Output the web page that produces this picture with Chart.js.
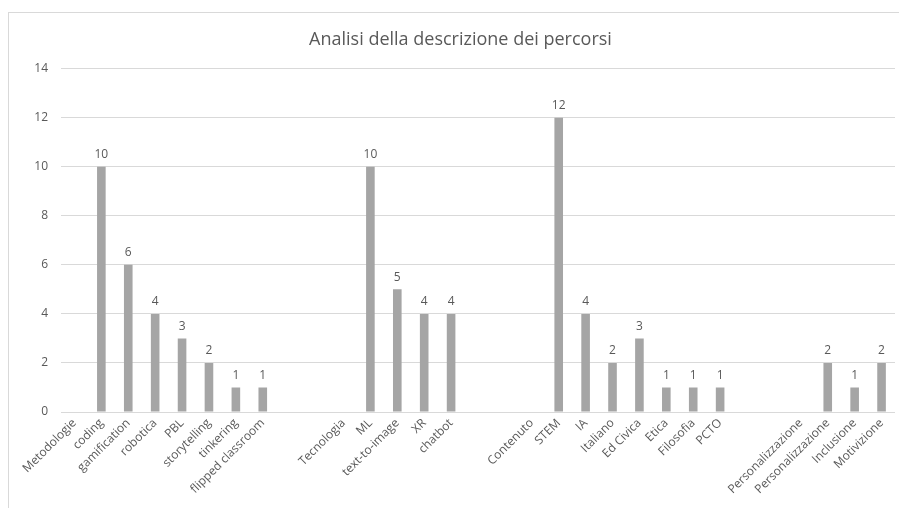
<!DOCTYPE html>
<html lang="it">
<head>
<meta charset="utf-8">
<title>Analisi della descrizione dei percorsi</title>
<script src="https://cdn.jsdelivr.net/npm/chart.js@4.4.1/dist/chart.umd.min.js"></script>
<style>
  html, body { margin: 0; padding: 0; background: #fff; overflow: hidden; }
  #wrap { position: relative; width: 899px; height: 508px; }
  #cornice {
    position: absolute; left: 8px; top: 12px; width: 1000px; height: 1000px;
    border: 1px solid #d9d9d9; box-sizing: border-box;
  }
  #grafico { position: absolute; left: 0; top: 0; }
</style>
</head>
<body>
<div id="wrap">
  <div id="cornice"></div>
  <canvas id="grafico" width="899" height="508"></canvas>
</div>
<script>
// Categorie raggruppate (le etichette vuote separano i gruppi)
const categorie = [
  'Metodologie', 'coding', 'gamification', 'robotica', 'PBL', 'storytelling', 'tinkering', 'flipped classroom',
  '', '',
  'Tecnologia', 'ML', 'text-to-image', 'XR', 'chatbot',
  '', '',
  'Contenuto', 'STEM', 'IA', 'Italiano', 'Ed Civica', 'Etica', 'Filosofia', 'PCTO',
  '', '',
  'Personalizzazione', 'Personalizzazione', 'Inclusione', 'Motivizione',
];
const conteggi = [
  null, 10, 6, 4, 3, 2, 1, 1,
  null, null,
  null, 10, 5, 4, 4,
  null, null,
  null, 12, 4, 2, 3, 1, 1, 1,
  null, null,
  null, 2, 1, 2,
];
const tickY = [0, 2, 4, 6, 8, 10, 12, 14];

const GRIGIO_TESTO = '#595959';
const FONT = "'Open Sans', 'Noto Sans', sans-serif";

// Scrive il valore sopra ogni barra
const etichetteValori = {
  id: 'etichetteValori',
  afterDatasetsDraw(chart) {
    const ctx = chart.ctx;
    const meta = chart.getDatasetMeta(0);
    ctx.save();
    ctx.font = `12px ${FONT}`;
    ctx.fillStyle = GRIGIO_TESTO;
    ctx.textAlign = 'center';
    ctx.textBaseline = 'bottom';
    meta.data.forEach((bar, i) => {
      const v = conteggi[i];
      if (v == null) return;
      ctx.fillText(String(v), bar.x, bar.y - 6);
    });
    ctx.restore();
  },
};

new Chart(document.getElementById('grafico'), {
  type: 'bar',
  data: {
    labels: categorie,
    datasets: [{
      data: conteggi,
      backgroundColor: '#a5a5a5',
      borderWidth: 0,
      barPercentage: 0.32,
      categoryPercentage: 1,
    }],
  },
  options: {
    responsive: false,
    animation: false,
    layout: { padding: { left: 26, right: 4, top: 0, bottom: 0 } },
    plugins: {
      legend: { display: false },
      tooltip: { enabled: false },
      title: {
        display: true,
        text: 'Analisi della descrizione dei percorsi',
        color: GRIGIO_TESTO,
        font: { family: FONT, size: 18, weight: 'normal' },
        padding: { top: 29, bottom: 18 },
      },
    },
    scales: {
      x: {
        grid: { display: false, drawTicks: false },
        border: { display: false },
        ticks: {
          autoSkip: false,
          maxRotation: 45,
          minRotation: 45,
          color: GRIGIO_TESTO,
          font: { family: FONT, size: 12 },
          padding: 4,
        },
        afterFit(scale) { scale.height = 96; },
      },
      y: {
        min: 0,
        max: 14,
        afterBuildTicks(scale) { scale.ticks = tickY.map(v => ({ value: v })); },
        grid: { color: '#d9d9d9', drawTicks: false },
        border: { display: false },
        ticks: {
          color: GRIGIO_TESTO,
          font: { family: FONT, size: 12 },
          padding: 13,
        },
        afterFit(scale) { scale.width = 35; },
      },
    },
  },
  plugins: [etichetteValori],
});
</script>
</body>
</html>
